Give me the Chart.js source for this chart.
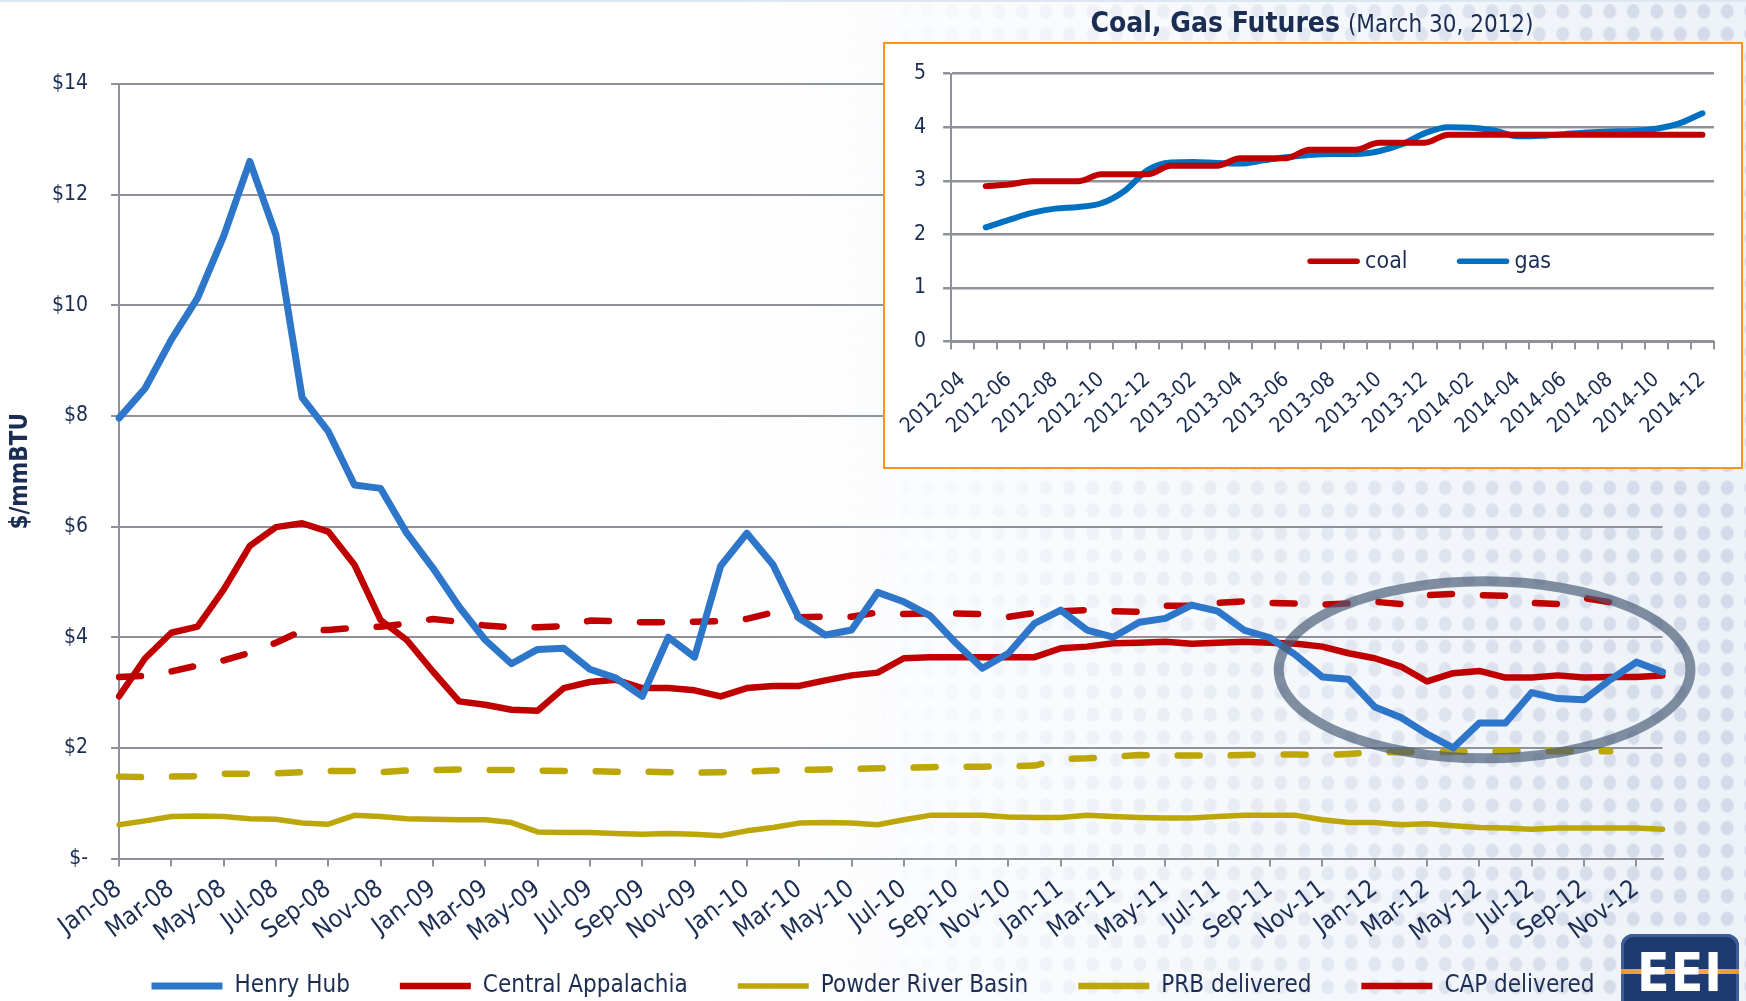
<!DOCTYPE html>
<html>
<head>
<meta charset="utf-8">
<title>Coal and gas prices</title>
<script src="https://cdn.jsdelivr.net/npm/chart.js@4.4.1/dist/chart.umd.min.js"></script>
<style>
  html, body { margin: 0; padding: 0; }
  body { width: 1746px; height: 1001px; position: relative; overflow: hidden; background: #fff; }
  #tint { position: absolute; left: 0; top: 0; width: 1746px; height: 1001px;
    background: linear-gradient(to right, rgba(238,243,249,0) 40%, #edf2f8 100%); border-top: 2px solid #dce7f2; box-sizing: border-box; }
  #dots { position: absolute; left: 0; top: 0; width: 1746px; height: 1001px;
    background-image: radial-gradient(7px 8px at 50% 50%, rgba(175,185,212,0.42) 80%, rgba(175,185,212,0) 100%);
    background-size: 23.5px 22.7px;
    -webkit-mask-image: linear-gradient(to right, transparent 48%, rgba(0,0,0,0.5) 72%, #000 95%);
    mask-image: linear-gradient(to right, transparent 48%, rgba(0,0,0,0.5) 72%, #000 95%); }
  #mainChart { position: absolute; left: 0; top: 0; }
  #insetTitle { position: absolute; left: 1012px; top: 9px; width: 600px; text-align: center;
    font-family: 'DejaVu Sans Condensed', 'DejaVu Sans', sans-serif; font-size: 28px; line-height: 28px; color: #1b2d52; }
  #insetTitle span { font-size: 24px; }
  #insetBox { position: absolute; left: 883px; top: 42px; width: 856px; height: 423px; border: 2px solid #f7931e; background: #fff; }
  #insetChart { display: block; }
  #logo { position: absolute; left: 1621px; top: 934px; width: 118px; height: 70px; background: #1d3b70;
    border-radius: 12px 12px 0 0; box-shadow: inset 0 0 0 3px #3c5f98; overflow: hidden; }
  #logo::before { content: ''; position: absolute; left: 0; right: 0; top: 35px; height: 5px;
    background: linear-gradient(to right, #f0962e, #f8b56a, #f0962e); }
  #logo span { position: absolute; left: 0; right: 0; top: 12px; text-align: center; color: #fff;
    font: bold 53px/53px 'DejaVu Sans Condensed', 'DejaVu Sans', sans-serif; letter-spacing: 1px; }
</style>
</head>
<body>
<div id="tint"></div>
<div id="dots"></div>
<canvas id="mainChart" width="1746" height="1001"></canvas>
<div id="insetTitle"><b>Coal, Gas Futures</b> <span>(March 30, 2012)</span></div>
<div id="insetBox"><canvas id="insetChart" width="856" height="423"></canvas></div>
<div id="logo"><span>EEI</span></div>
<script>
const FONT = "'DejaVu Sans Condensed', 'DejaVu Sans', sans-serif";
const NAVY = '#1b2d52';
const GRID = '#8f9399';

// monthly spot prices, $/mmBTU
const months = [
  'Jan-08', 'Feb-08', 'Mar-08', 'Apr-08', 'May-08', 'Jun-08', 'Jul-08', 'Aug-08', 'Sep-08', 'Oct-08', 'Nov-08', 'Dec-08',
  'Jan-09', 'Feb-09', 'Mar-09', 'Apr-09', 'May-09', 'Jun-09', 'Jul-09', 'Aug-09', 'Sep-09', 'Oct-09', 'Nov-09', 'Dec-09',
  'Jan-10', 'Feb-10', 'Mar-10', 'Apr-10', 'May-10', 'Jun-10', 'Jul-10', 'Aug-10', 'Sep-10', 'Oct-10', 'Nov-10', 'Dec-10',
  'Jan-11', 'Feb-11', 'Mar-11', 'Apr-11', 'May-11', 'Jun-11', 'Jul-11', 'Aug-11', 'Sep-11', 'Oct-11', 'Nov-11', 'Dec-11',
  'Jan-12', 'Feb-12', 'Mar-12', 'Apr-12', 'May-12', 'Jun-12', 'Jul-12', 'Aug-12', 'Sep-12', 'Oct-12', 'Nov-12', 'Dec-12'
];
const henryHub = [
  7.96, 8.50, 9.38, 10.13, 11.25, 12.60, 11.27, 8.33, 7.72, 6.75, 6.69, 5.88,
  5.25, 4.55, 3.95, 3.52, 3.78, 3.80, 3.42, 3.26, 2.93, 4.00, 3.64, 5.29,
  5.88, 5.31, 4.34, 4.04, 4.13, 4.81, 4.64, 4.39, 3.89, 3.44, 3.71, 4.25,
  4.49, 4.13, 4.00, 4.27, 4.34, 4.58, 4.47, 4.13, 3.99, 3.67, 3.28, 3.24,
  2.74, 2.55, 2.25, 2.00, 2.45, 2.45, 3.00, 2.89, 2.87, 3.23, 3.55, 3.37
];
const centralAppalachia = [
  2.93, 3.62, 4.08, 4.19, 4.86, 5.65, 5.99, 6.06, 5.91, 5.31, 4.31, 3.95,
  3.38, 2.84, 2.78, 2.69, 2.67, 3.08, 3.19, 3.23, 3.08, 3.08, 3.04, 2.93,
  3.08, 3.12, 3.12, 3.22, 3.31, 3.36, 3.62, 3.64, 3.64, 3.64, 3.64, 3.64,
  3.80, 3.83, 3.89, 3.90, 3.92, 3.88, 3.90, 3.92, 3.90, 3.88, 3.83, 3.71,
  3.62, 3.47, 3.20, 3.35, 3.39, 3.27, 3.27, 3.31, 3.27, 3.28, 3.28, 3.31
];
const powderRiverBasin = [
  0.61, 0.68, 0.76, 0.77, 0.76, 0.72, 0.71, 0.64, 0.62, 0.78, 0.76, 0.72,
  0.71, 0.70, 0.70, 0.65, 0.48, 0.47, 0.47, 0.45, 0.44, 0.45, 0.44, 0.41,
  0.50, 0.56, 0.64, 0.65, 0.64, 0.61, 0.70, 0.78, 0.78, 0.78, 0.75, 0.74,
  0.74, 0.78, 0.76, 0.74, 0.73, 0.73, 0.76, 0.78, 0.78, 0.78, 0.70, 0.65,
  0.65, 0.61, 0.63, 0.59, 0.56, 0.55, 0.53, 0.55, 0.55, 0.55, 0.55, 0.53
];
const prbDelivered = [
  1.48, 1.47, 1.48, 1.49, 1.53, 1.53, 1.54, 1.56, 1.58, 1.58, 1.56, 1.59,
  1.60, 1.61, 1.60, 1.60, 1.59, 1.58, 1.58, 1.57, 1.57, 1.56, 1.55, 1.56,
  1.57, 1.59, 1.60, 1.61, 1.62, 1.63, 1.64, 1.65, 1.66, 1.66, 1.67, 1.68,
  1.80, 1.81, 1.84, 1.87, 1.86, 1.86, 1.86, 1.87, 1.88, 1.88, 1.87, 1.89,
  1.92, 1.92, 1.92, 1.93, 1.93, 1.94, 1.94, 1.94, 1.94, 1.94
];
const capDelivered = [
  3.28, 3.30, 3.38, 3.49, 3.58, 3.72, 3.90, 4.12, 4.13, 4.17, 4.19, 4.25,
  4.33, 4.28, 4.21, 4.18, 4.18, 4.20, 4.30, 4.29, 4.27, 4.27, 4.28, 4.29,
  4.33, 4.45, 4.36, 4.37, 4.37, 4.45, 4.42, 4.43, 4.43, 4.42, 4.37, 4.44,
  4.47, 4.49, 4.47, 4.46, 4.57, 4.57, 4.62, 4.65, 4.62, 4.61, 4.59, 4.61,
  4.64, 4.60, 4.76, 4.78, 4.76, 4.75, 4.62, 4.60, 4.71, 4.63
];

// futures curve as of March 30, 2012
const futureMonths = [
  '2012-04', '2012-05', '2012-06', '2012-07', '2012-08', '2012-09', '2012-10', '2012-11', '2012-12',
  '2013-01', '2013-02', '2013-03', '2013-04', '2013-05', '2013-06', '2013-07', '2013-08', '2013-09',
  '2013-10', '2013-11', '2013-12', '2014-01', '2014-02', '2014-03', '2014-04', '2014-05', '2014-06',
  '2014-07', '2014-08', '2014-09', '2014-10', '2014-11', '2014-12'
];
const coalFutures = [
  null, 2.90, 2.93, 2.99, 2.99, 2.99, 3.12, 3.12, 3.12,
  3.28, 3.28, 3.28, 3.42, 3.42, 3.42, 3.58, 3.58, 3.58,
  3.71, 3.71, 3.71, 3.86, 3.86, 3.86, 3.86, 3.86, 3.86,
  3.86, 3.86, 3.86, 3.86, 3.86, 3.86
];
const gasFutures = [
  null, 2.13, 2.27, 2.40, 2.48, 2.51, 2.58, 2.81, 3.20,
  3.34, 3.35, 3.33, 3.32, 3.38, 3.44, 3.48, 3.50, 3.50,
  3.55, 3.68, 3.89, 4.00, 3.99, 3.94, 3.83, 3.84, 3.87,
  3.90, 3.92, 3.93, 3.97, 4.07, 4.26
];

// the grey ring drawn round the 2012 gas dip, in data units
const circled = { month: 52.2, price: 3.41, halfMonths: 7.87, halfPrice: 1.6 };

Chart.defaults.font.family = FONT;
Chart.defaults.color = NAVY;

const ringPlugin = {
  id: 'ring',
  afterDatasetsDraw(chart) {
    const { ctx, scales: { x, y } } = chart;
    const cx = x.getPixelForValue(circled.month);
    const cy = y.getPixelForValue(circled.price);
    const rx = x.getPixelForValue(circled.month + circled.halfMonths) - cx;
    const ry = cy - y.getPixelForValue(circled.price + circled.halfPrice);
    ctx.save();
    ctx.strokeStyle = 'rgba(72, 92, 118, 0.68)';
    ctx.lineWidth = 10;
    ctx.beginPath();
    ctx.ellipse(cx, cy, rx, ry, 0, 0, Math.PI * 2);
    ctx.stroke();
    ctx.restore();
  }
};

// the legend takes little room in the layout so the rotated month labels are not clipped,
// then its box is stretched back up to where its row sits in the original
const legendRow = {
  id: 'legendRow',
  beforeDraw(chart) {
    const lg = chart.legend;
    lg.top = 924;
    lg.bottom = chart.height;
    lg.height = lg.bottom - lg.top;
  }
};

const dash = [22, 31];

new Chart(document.getElementById('mainChart'), {
  type: 'line',
  data: {
    labels: months,
    datasets: [
      { label: 'Henry Hub', data: henryHub, borderColor: '#2e76c9', borderWidth: 7 },
      { label: 'Central Appalachia', data: centralAppalachia, borderColor: '#c00000', borderWidth: 6.5 },
      { label: 'Powder River Basin', data: powderRiverBasin, borderColor: '#bca608', borderWidth: 5.5 },
      { label: 'PRB delivered', data: prbDelivered, borderColor: '#bca608', borderWidth: 6.5, borderDash: dash },
      { label: 'CAP delivered', data: capDelivered, borderColor: '#c00000', borderWidth: 6.5, borderDash: dash }
    ]
  },
  options: {
    responsive: false,
    animation: false,
    layout: { padding: { left: 0, right: 0, top: 84, bottom: 0 } },
    elements: {
      point: { radius: 0 },
      line: { tension: 0, fill: false, borderCapStyle: 'round', borderJoinStyle: 'round' }
    },
    plugins: {
      tooltip: { enabled: false },
      legend: {
        position: 'bottom',
        maxHeight: 30,
        labels: {
          usePointStyle: true,
          pointStyle: 'line',
          pointStyleWidth: 71,
          padding: 50,
          color: NAVY,
          font: { size: 24 },
          generateLabels(chart) {
            return Chart.defaults.plugins.legend.labels.generateLabels(chart)
              .map(item => Object.assign(item, { lineDashOffset: 12 }));
          }
        }
      }
    },
    scales: {
      x: {
        grid: { drawOnChartArea: false, color: GRID, lineWidth: 2, tickLength: 8 },
        border: { color: GRID, width: 2 },
        ticks: { autoSkip: false, minRotation: 37, maxRotation: 37, padding: 8, color: NAVY, font: { size: 25 } },
        afterBuildTicks(scale) { scale.ticks = scale.ticks.filter(t => t.value % 2 === 0); },
        afterFit(scale) { scale.height = 112.5; }
      },
      y: {
        min: 0,
        max: 14,
        ticks: { stepSize: 2, padding: 23, color: NAVY, font: { size: 21 },
          callback: v => (v === 0 ? '$-' : '$' + v) },
        grid: { color: GRID, lineWidth: 2, tickLength: 8 },
        border: { color: GRID, width: 2 },
        title: { display: true, text: '$/mmBTU', color: NAVY, font: { size: 24, weight: 'bold' }, padding: { top: 6 } },
        afterFit(scale) { scale.width = 119; }
      },
      y2: {
        position: 'right',
        grid: { display: false },
        border: { display: false },
        ticks: { display: false },
        afterFit(scale) { scale.width = 83.5; }
      }
    }
  },
  plugins: [ringPlugin, legendRow]
});

const insetLegend = {
  id: 'insetLegend',
  afterDraw(chart) {
    const { ctx } = chart;
    const y = chart.scales.y.getPixelForValue(1.5);
    let x = chart.chartArea.left + 356;
    ctx.save();
    ctx.font = `23px ${FONT}`;
    ctx.textBaseline = 'middle';
    ctx.lineCap = 'round';
    chart.data.datasets.forEach(ds => {
      ctx.strokeStyle = ds.borderColor;
      ctx.lineWidth = 5.5;
      ctx.beginPath();
      ctx.moveTo(x + 3, y);
      ctx.lineTo(x + 50, y);
      ctx.stroke();
      ctx.fillStyle = NAVY;
      ctx.fillText(ds.label, x + 58, y + 1);
      x += 58 + ctx.measureText(ds.label).width + 49;
    });
    ctx.restore();
  }
};

new Chart(document.getElementById('insetChart'), {
  type: 'line',
  data: {
    labels: futureMonths,
    datasets: [
      { label: 'coal', data: coalFutures, borderColor: '#c00000', borderWidth: 6 },
      { label: 'gas', data: gasFutures, borderColor: '#0070c0', borderWidth: 6 }
    ]
  },
  options: {
    responsive: false,
    animation: false,
    layout: { padding: { left: 0, right: 27, top: 23, bottom: 0 } },
    elements: {
      point: { radius: 0 },
      line: { cubicInterpolationMode: 'monotone', fill: false, borderCapStyle: 'round' }
    },
    plugins: { legend: { display: false }, tooltip: { enabled: false } },
    scales: {
      x: {
        offset: true,
        grid: { offset: true, drawOnChartArea: false, color: GRID, lineWidth: 2, tickLength: 8 },
        border: { color: GRID, width: 2 },
        ticks: {
          autoSkip: false, minRotation: 42, maxRotation: 42, padding: 18, color: NAVY, font: { size: 21 },
          callback(value, index) { return index % 2 === 0 ? this.getLabelForValue(value) : ''; }
        },
        afterFit(scale) { scale.height = 125.5; }
      },
      y: {
        min: 0,
        max: 5,
        ticks: { stepSize: 1, padding: 17, color: NAVY, font: { size: 21 } },
        grid: { color: GRID, lineWidth: 2.5, tickLength: 8 },
        border: { color: GRID, width: 2 },
        afterFit(scale) { scale.width = 66; }
      }
    }
  },
  plugins: [insetLegend]
});
</script>
</body>
</html>
